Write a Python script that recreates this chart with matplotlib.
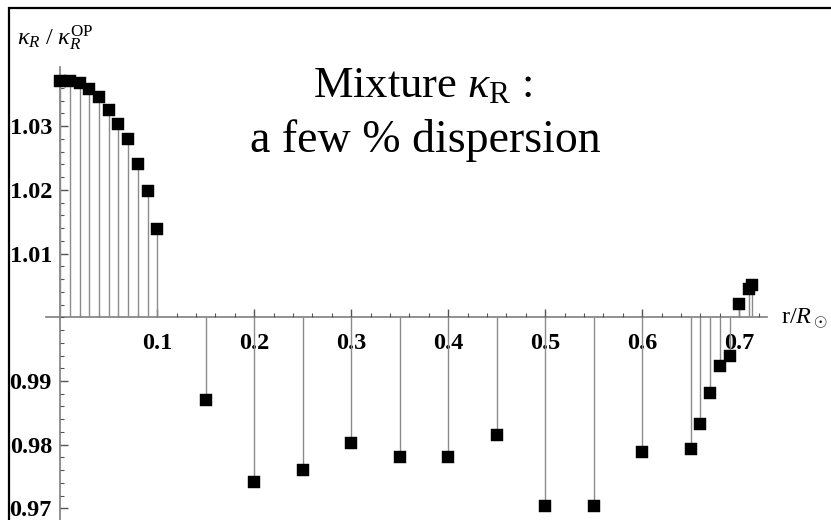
import matplotlib
matplotlib.use("Agg")
import matplotlib.pyplot as plt
from matplotlib.patches import Rectangle
import numpy as np

plt.rcParams['font.family'] = ['Liberation Serif', 'DejaVu Serif']
plt.rcParams['mathtext.fontset'] = 'custom'
plt.rcParams['mathtext.rm'] = 'Liberation Serif'
plt.rcParams['mathtext.it'] = 'Liberation Serif:italic'
plt.rcParams['mathtext.bf'] = 'Liberation Serif:bold'

# rapporto kappa_R / kappa_R^OP in funzione del raggio
raggio = [0.00, 0.01, 0.02, 0.03, 0.04, 0.05, 0.06, 0.07, 0.08, 0.09, 0.10,
          0.15, 0.20, 0.25, 0.30, 0.35, 0.40, 0.45, 0.50, 0.55, 0.60,
          0.65, 0.66, 0.67, 0.68, 0.69, 0.70, 0.71, 0.713]
rapporto = [1.0371, 1.0371, 1.0368, 1.0358, 1.0346, 1.0325, 1.0304, 1.0280, 1.0240, 1.0199, 1.0138,
            0.9870, 0.9742, 0.9760, 0.9802, 0.9780, 0.9780, 0.9815, 0.9704, 0.9703, 0.9789,
            0.9794, 0.9832, 0.9881, 0.9924, 0.9940, 1.0021, 1.0044, 1.0050]

xticks = [0.1, 0.2, 0.3, 0.4, 0.5, 0.6, 0.7]
xtick_labels = ["0.1", "0.2", "0.3", "0.4", "0.5", "0.6", "0.7"]
yticks = [0.97, 0.98, 0.99, 1.01, 1.02, 1.03]
ytick_labels = ["0.97", "0.98", "0.99", "1.01", "1.02", "1.03"]

W, H = 831, 520
fig = plt.figure(figsize=(W / 100, H / 100), dpi=100)
ax = fig.add_axes([0, 0, 1, 1])
ax.set_xlim(-0.06216, 0.79454)
ax.set_ylim(0.96818, 1.04981)
ax.patch.set_alpha(0)

# stem: linee grigie dalla base 1 fino al punto
ax.vlines(raggio, 1.0, rapporto, color='#8c8c8c', lw=1.0, zorder=2)
ax.plot(raggio, rapporto, 's', color='black', ms=8.6, mec='black', mew=0.3, zorder=3)

# assi incrociati in (0, 1)
for s in ['top', 'right']:
    ax.spines[s].set_visible(False)
ax.spines['left'].set_position(('data', 0))
ax.spines['bottom'].set_position(('data', 1.0))
ax.spines['left'].set_bounds(0.96818, 1.0393)
ax.spines['bottom'].set_bounds(-0.0145, 0.7285)
for s in ['left', 'bottom']:
    ax.spines[s].set_color('#7f7f7f')
    ax.spines[s].set_linewidth(1.2)
    ax.spines[s].set_zorder(1)

ax.set_xticks(xticks)
ax.set_xticklabels(xtick_labels)
ax.set_xticks(np.arange(0.02, 0.73, 0.02), minor=True)
ax.set_yticks(yticks)
ax.set_yticklabels(ytick_labels)
ax.set_yticks(np.arange(0.97, 1.039, 0.002), minor=True)

ax.tick_params(which='major', direction='in', length=6, width=1.0, color='#555555')
ax.tick_params(which='minor', direction='in', length=3, width=0.8, color='#555555')
ax.tick_params(axis='x', which='major', pad=11)
ax.tick_params(axis='y', which='major', pad=6)
for lab in ax.get_xticklabels() + ax.get_yticklabels():
    lab.set_fontweight('bold')
    lab.set_fontsize(17.5)

# etichette degli assi
fig.text(17 / W, 1 - 45 / H, r'$\kappa_R\ /\ \kappa_R^{\mathrm{OP}}$', fontsize=17.5,
         ha='left', va='baseline')
fig.text(781 / W, 1 - 324 / H, r'r/$R_\odot$', fontsize=17.5, ha='left', va='baseline')

# titolo interno
fig.text(423 / W, 1 - 97 / H, r'Mixture $\kappa_\mathrm{R}$ :', fontsize=32,
         ha='center', va='baseline')
fig.text(425 / W, 1 - 152 / H, 'a few % dispersion', fontsize=33,
         ha='center', va='baseline')

# cornice esterna
fig.add_artist(Rectangle((9 / W, -0.2), 2, 1 - 8 / H + 0.2, transform=fig.transFigure,
                         fill=False, lw=1.6, ec='black', clip_on=False))

fig.savefig('out.png', dpi=100)
